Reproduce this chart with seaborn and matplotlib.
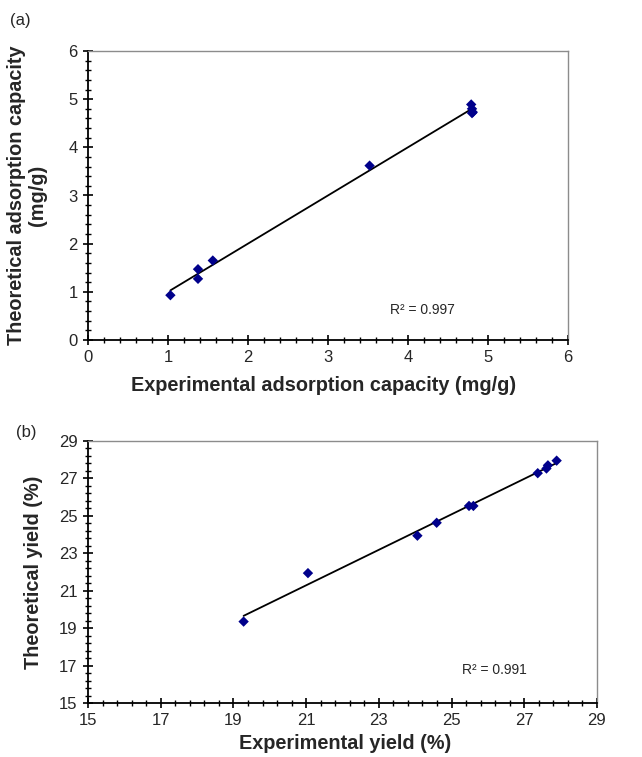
import numpy as np
import pandas as pd
import matplotlib
matplotlib.use("Agg")
import matplotlib.pyplot as plt
import seaborn as sns
from matplotlib.ticker import AutoMinorLocator

# Panel (a): adsorption capacity (mg/g)
exp_ads = [1.03, 1.375, 1.375, 1.56, 3.52, 4.79, 4.80, 4.81, 4.80]
theo_ads = [0.93, 1.47, 1.27, 1.65, 3.62, 4.89, 4.80, 4.73, 4.71]
ticks_a = [0, 1, 2, 3, 4, 5, 6]
r2_a = "R² = 0.997"

# Panel (b): yield (%)
exp_yield = [19.28, 21.05, 24.06, 24.59, 25.48, 25.60, 27.37, 27.61, 27.65, 27.89]
theo_yield = [19.35, 21.94, 23.94, 24.63, 25.53, 25.53, 27.28, 27.53, 27.70, 27.95]
ticks_b = [15, 17, 19, 21, 23, 25, 27, 29]
r2_b = "R² = 0.991"

sns.set_style("ticks")
plt.rcParams['font.family'] = ['Liberation Sans', 'DejaVu Sans']

fig = plt.figure(figsize=(6.42, 7.57), dpi=100)
W, H = 642, 757

def px_axes(l, t, r, b):
    return fig.add_axes([l / W, 1 - b / H, (r - l) / W, (b - t) / H])

ax1 = px_axes(88, 51, 568, 340)
ax2 = px_axes(88, 441, 597, 703)

marker_color = "#00008B"

def style(ax, ticks):
    ax.set_xlim(ticks[0], ticks[-1])
    ax.set_ylim(ticks[0], ticks[-1])
    ax.set_xticks(ticks)
    ax.set_yticks(ticks)
    ax.xaxis.set_minor_locator(AutoMinorLocator(5))
    ax.yaxis.set_minor_locator(AutoMinorLocator(5))
    ax.tick_params(which='major', direction='inout', length=7, width=1.2,
                   labelsize=12, color='black', pad=4)
    ax.tick_params(which='minor', direction='inout', length=4, width=1.0, color='black')
    for s in ['top', 'right']:
        ax.spines[s].set_color('#8c8c8c')
        ax.spines[s].set_linewidth(1.0)
    for s in ['left', 'bottom']:
        ax.spines[s].set_color('black')
        ax.spines[s].set_linewidth(1.3)

sc_kw = dict(color=marker_color, s=28, edgecolors='none', alpha=1, zorder=3)
ln_kw = dict(color='black', lw=1.3, zorder=2)

df_a = pd.DataFrame({"exp": exp_ads, "theo": theo_ads})
sns.regplot(data=df_a, x="exp", y="theo", ax=ax1, ci=None, marker='D',
            scatter_kws=sc_kw, line_kws=ln_kw)
style(ax1, ticks_a)
ax1.set_xlabel("Experimental adsorption capacity (mg/g)", fontsize=14.3,
               fontweight='bold')
ax1.set_ylabel("Theoretical adsorption capacity\n(mg/g)", fontsize=14.3,
               fontweight='bold', linespacing=1.15)
ax1.xaxis.set_label_coords(0.49, -0.125)
ax1.yaxis.set_label_coords(-0.085, 0.5)
ax1.text(3.78, 0.55, r2_a, fontsize=10)

df_b = pd.DataFrame({"exp": exp_yield, "theo": theo_yield})
sns.regplot(data=df_b, x="exp", y="theo", ax=ax2, ci=None, marker='D',
            scatter_kws=sc_kw, line_kws=ln_kw)
style(ax2, ticks_b)
ax2.set_xlabel("Experimental yield (%)", fontsize=14.3, fontweight='bold')
ax2.set_ylabel("Theoretical yield (%)", fontsize=14.3, fontweight='bold')
ax2.xaxis.set_label_coords(0.505, -0.118)
ax2.yaxis.set_label_coords(-0.088, 0.5)
ax2.text(25.3, 16.55, r2_b, fontsize=10)

fig.text(10 / W, 1 - 20 / H, "(a)", fontsize=12, va='center')
fig.text(16 / W, 1 - 433 / H, "(b)", fontsize=12, va='center')

fig.savefig("out.png", dpi=100)
